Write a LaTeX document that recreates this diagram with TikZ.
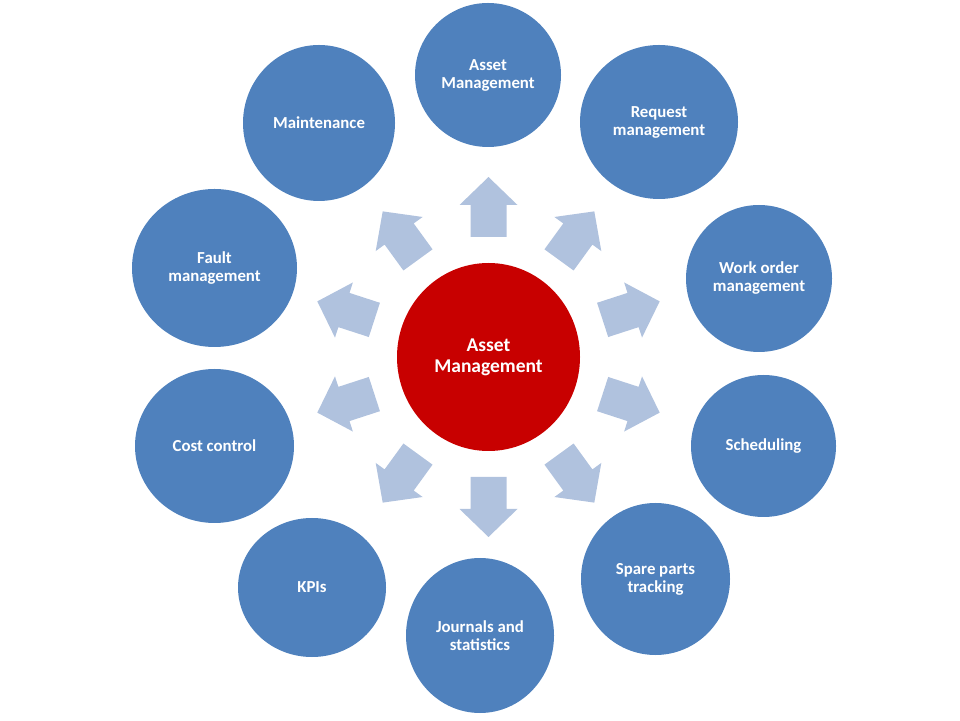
\documentclass[tikz,border=0pt]{standalone}
\usepackage{fontspec}
\setmainfont{Carlito}
\usetikzlibrary{shapes.geometric}

\definecolor{topicblue}{RGB}{79,129,189}
\definecolor{hubred}{RGB}{200,0,0}
\definecolor{arrowblue}{RGB}{176,194,222}

\begin{document}
\begin{tikzpicture}[x=1pt,y=1pt,text=white]
	  \tikzstyle{topic}=[ellipse,fill=topicblue,inner sep=0pt,align=center,
	                     font=\fontsize{16.8}{18}\selectfont\bfseries]
	  \tikzstyle{hub}=[ellipse,fill=hubred,inner sep=0pt,align=center,
	                   font=\fontsize{19.5}{21}\selectfont\bfseries]
	  \tikzstyle{blockarrow}=[fill=arrowblue]

	  \useasboundingbox (0,0) rectangle (960,720);

	  \node[hub,minimum width=183,minimum height=188] (hub) at (488.5,363) {Asset\\Management};

	  \node[topic,minimum width=146,minimum height=144] (asset)    at (488,645)   {Asset\\Management};
	  \node[topic,minimum width=158,minimum height=154] (request)  at (659,598)   {Request\\management};
	  \node[topic,minimum width=146,minimum height=147] (workorder) at (759,441.5) {Work order\\management};
	  \node[topic,minimum width=145,minimum height=142] (sched)    at (763.5,274) {Scheduling};
	  \node[topic,minimum width=149,minimum height=152] (spare)    at (655.5,141) {Spare parts\\tracking};
	  \node[topic,minimum width=148,minimum height=155] (journals) at (480,84.5)  {Journals and\\statistics};
	  \node[topic,minimum width=148,minimum height=139] (kpis)     at (312,132.5) {KPIs};
	  \node[topic,minimum width=159,minimum height=154] (cost)     at (214.5,274) {Cost control};
	  \node[topic,minimum width=165,minimum height=158] (fault)    at (214.5,452) {Fault\\management};
	  \node[topic,minimum width=152,minimum height=156] (maint)    at (319,597)   {Maintenance};

	  % block arrows from the hub outwards
	  \foreach \ang in {90,54,...,-234} {
	    \begin{scope}[shift={(hub.center)},rotate=\ang]
	      \fill[blockarrow] (120,-18) -- (152,-18) -- (152,-29) -- (180,0)
	                        -- (152,29) -- (152,18) -- (120,18) -- cycle;
	    \end{scope}
	  }
\end{tikzpicture}
\end{document}
